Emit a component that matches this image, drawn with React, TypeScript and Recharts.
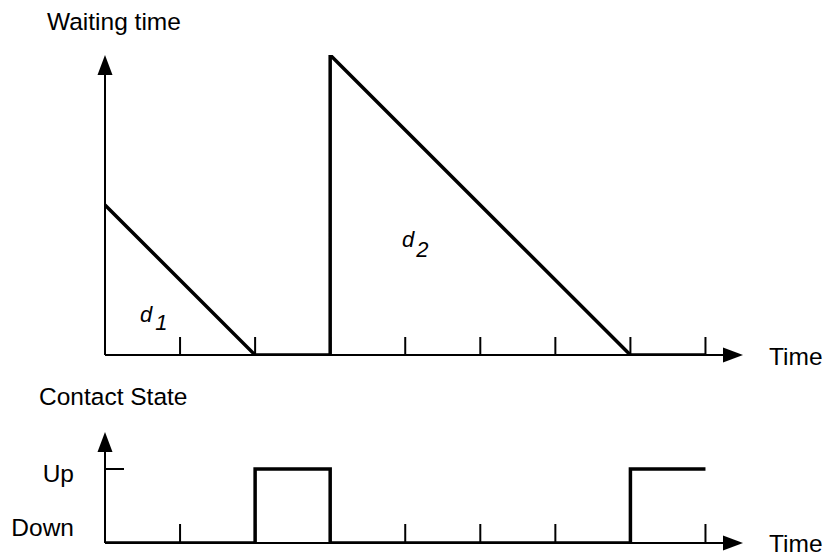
import React from "react";
import { LineChart, Line, XAxis, YAxis, ReferenceLine } from "recharts";

// ---- data ----
const timeTicks = [1, 2, 3, 4, 5, 6, 7, 8];
const waitingTimes = [0, 2, 3, 3, 7, 8];
const waitingValues = [2, 0, 0, 4, 0, 0];
const contactTimes = [0, 2, 3, 7, 8];
const contactValues = [0, 1, 0, 1, 1];
const stateTicks = [0, 1];
const stateLabels = ["Down", "Up"];
const xMax = 8.5;
const waitMax = 4;
const stateMax = 1.5;

const waitingData = waitingTimes.map((t, i) => ({ t, w: waitingValues[i] }));
const contactData = contactTimes.map((t, i) => ({ t, s: contactValues[i] }));

const FONT = '"Liberation Sans", Arial, Helvetica, sans-serif';
const LABEL_SIZE = 24.5;

const ArrowLine = (props: any) => {
  const { x1, y1, x2, y2 } = props;
  const dx = x2 - x1;
  const dy = y2 - y1;
  const len = Math.sqrt(dx * dx + dy * dy) || 1;
  const ux = dx / len;
  const uy = dy / len;
  const hl = 20;
  const hw = 7.5;
  const bx = x2 - ux * hl;
  const by = y2 - uy * hl;
  const px = -uy * hw;
  const py = ux * hw;
  return (
    <g>
      <line x1={x1} y1={y1} x2={bx} y2={by} stroke="#000" strokeWidth={2} />
      <polygon
        points={`${x2},${y2} ${bx + px},${by + py} ${bx - px},${by - py}`}
        fill="#000"
      />
    </g>
  );
};

const UpTick = (h: number) => (props: any) => {
  const { x, y } = props;
  return <line x1={x} x2={x} y1={y} y2={y - h} stroke="#000" strokeWidth={2} />;
};

const StateTick = (props: any) => {
  const { x, y, payload } = props;
  const v = payload.value;
  const label = stateLabels[stateTicks.indexOf(v)];
  return (
    <g>
      <text
        x={x - 31}
        y={y + (v === 1 ? 13 : -7)}
        textAnchor="end"
        fontFamily={FONT}
        fontSize={LABEL_SIZE}
        fill="#000"
      >
        {label}
      </text>
      {v === 1 && <line x1={x} x2={x + 19} y1={y} y2={y} stroke="#000" strokeWidth={2} />}
    </g>
  );
};

export default function App() {
  return (
    <div style={{ position: "absolute", left: 0, top: 0, width: 825, height: 554, background: "#fff" }}>
      <div style={{ position: "absolute", left: 0, top: 0 }}>
        <LineChart
          width={825}
          height={375}
          data={waitingData}
          margin={{ top: 55, right: 82, bottom: 0, left: 105 }}
        >
          <XAxis
            dataKey="t"
            type="number"
            domain={[0, xMax]}
            ticks={timeTicks}
            height={20}
            axisLine={false}
            tickLine={false}
            tickSize={0}
            tickMargin={0}
            tick={UpTick(18)}
            interval={0}
            allowDataOverflow
          />
          <YAxis hide type="number" domain={[0, waitMax]} width={0} allowDataOverflow />
          <ReferenceLine
            segment={[{ x: 0, y: 0 }, { x: xMax, y: 0 }]}
            ifOverflow="visible"
            shape={ArrowLine}
          />
          <ReferenceLine
            segment={[{ x: 0, y: 0 }, { x: 0, y: waitMax }]}
            ifOverflow="visible"
            shape={ArrowLine}
          />
          <Line
            dataKey="w"
            type="linear"
            stroke="#000"
            strokeWidth={3.5}
            dot={false}
            activeDot={false}
            isAnimationActive={false}
          />
        </LineChart>
      </div>
      <div style={{ position: "absolute", left: 0, top: 375 }}>
        <LineChart
          width={825}
          height={179}
          data={contactData}
          margin={{ top: 57, right: 82, bottom: 0, left: 0 }}
        >
          <XAxis
            dataKey="t"
            type="number"
            domain={[0, xMax]}
            ticks={timeTicks}
            height={11}
            axisLine={false}
            tickLine={false}
            tickSize={0}
            tickMargin={0}
            tick={UpTick(19)}
            interval={0}
            allowDataOverflow
          />
          <YAxis
            type="number"
            domain={[0, stateMax]}
            ticks={stateTicks}
            width={105}
            axisLine={false}
            tickLine={false}
            tickSize={0}
            tickMargin={0}
            tick={StateTick}
            interval={0}
            allowDataOverflow
          />
          <ReferenceLine
            segment={[{ x: 0, y: 0 }, { x: xMax, y: 0 }]}
            ifOverflow="visible"
            shape={ArrowLine}
          />
          <ReferenceLine
            segment={[{ x: 0, y: 0 }, { x: 0, y: stateMax }]}
            ifOverflow="visible"
            shape={ArrowLine}
          />
          <Line
            dataKey="s"
            type="stepAfter"
            stroke="#000"
            strokeWidth={3.5}
            dot={false}
            activeDot={false}
            isAnimationActive={false}
          />
        </LineChart>
      </div>
      <svg
        width={825}
        height={554}
        style={{ position: "absolute", left: 0, top: 0, pointerEvents: "none" }}
        fontFamily={FONT}
      >
        <text x={47} y={30} fontSize={LABEL_SIZE} fill="#000">Waiting time</text>
        <text x={769} y={365} fontSize={LABEL_SIZE} fill="#000">Time</text>
        <text x={39} y={405} fontSize={LABEL_SIZE} fill="#000">Contact State</text>
        <text x={769} y={552} fontSize={LABEL_SIZE} fill="#000">Time</text>
        <text x={140} y={322} fontSize={22} fontStyle="italic" fill="#000">
          d<tspan dx={3} dy={8}>1</tspan>
        </text>
        <text x={402} y={247} fontSize={22} fontStyle="italic" fill="#000">
          d<tspan dx={2} dy={10}>2</tspan>
        </text>
      </svg>
    </div>
  );
}
